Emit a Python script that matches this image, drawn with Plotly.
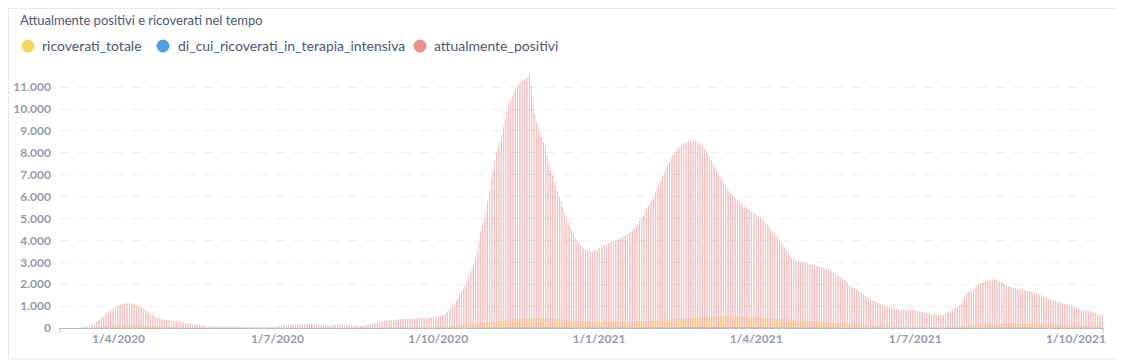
import pandas as pd
import plotly.graph_objects as go

start_date = "2020-02-28"

# daily values, 28/2/2020 .. 16/10/2021
attualmente_positivi = [
    # Feb 28-29 2020
    0, 0,
    # Mar 2020
    0, 0, 1, 1, 1, 2, 3, 5, 8, 12, 18, 30, 45, 70, 100, 140, 180, 230, 290, 340,
    400, 460, 530, 600, 670, 730, 790, 850, 900, 950, 1000,
    # Apr 2020
    1040, 1070, 1090, 1110, 1120, 1130, 1130, 1120, 1110, 1080, 1040, 1000, 960, 920, 870,
    830, 770, 710, 650, 600, 550, 510, 470, 440, 420, 400, 380, 360, 350, 340,
    # May 2020
    330, 320, 310, 300, 290, 280, 265, 250, 235, 220, 200, 185, 170, 160, 150, 135,
    120, 115, 110, 100, 95, 85, 80, 78, 75, 72, 70, 68, 66, 64, 62,
    # Jun 2020
    60, 58, 57, 55, 55, 54, 52, 50, 50, 48, 47, 46, 45, 45, 44, 43, 42, 42, 41, 40,
    40, 40, 42, 45, 48, 50, 55, 60, 65, 70,
    # Jul 2020
    80, 90, 100, 110, 120, 130, 135, 140, 145, 150, 155, 160, 160, 165, 170, 170,
    175, 175, 180, 180, 175, 170, 165, 160, 150, 140, 130, 120, 110, 110, 120,
    # Aug 2020
    130, 140, 150, 155, 160, 160, 155, 150, 145, 140, 130, 120, 110, 100, 95, 90,
    95, 100, 110, 120, 135, 150, 170, 190, 210, 230, 250, 270, 290, 310, 325,
    # Sep 2020
    330, 340, 350, 360, 370, 380, 390, 395, 400, 405, 410, 415, 420, 425, 430,
    435, 440, 440, 445, 450, 450, 455, 460, 460, 465, 470, 480, 495, 510, 530,
    # Oct 2020
    540, 555, 580, 620, 680, 750, 840, 940, 1030, 1130, 1240, 1360, 1490, 1630, 1780,
    1940, 2100, 2300, 2500, 2700, 2950, 3220, 3500, 3950, 4400, 4700, 5000, 5300,
    5800, 6300, 6800,
    # Nov 2020
    7200, 7600, 8000, 8300, 8500, 8800, 9200, 9600, 9900, 10200, 10400, 10600, 10800,
    10950, 11100, 11150, 11250, 11300, 11350, 11400, 11450, 11600, 11100, 10400, 9800,
    9400, 9100, 8900, 8700, 8500,
    # Dec 2020
    8300, 7900, 7500, 7200, 6950, 6700, 6500, 6250, 6000, 5800, 5500, 5250, 5000, 4830,
    4660, 4500, 4330, 4160, 4000, 3900, 3780, 3700, 3620, 3560, 3530, 3510, 3500, 3510,
    3530, 3560, 3600,
    # Jan 2021
    3650, 3700, 3740, 3780, 3820, 3860, 3900, 3930, 3960, 4000, 4030, 4060, 4100, 4150,
    4200, 4250, 4300, 4350, 4400, 4480, 4560, 4650, 4750, 4870, 5000, 5130, 5270, 5420,
    5570, 5720, 5860,
    # Feb 2021
    6000, 6180, 6370, 6560, 6750, 6930, 7100, 7280, 7450, 7620, 7780, 7920, 8040, 8130,
    8210, 8280, 8340, 8400, 8450, 8490, 8520, 8550, 8560, 8550, 8530, 8490, 8440, 8380,
    # Mar 2021
    8300, 8200, 8100, 7970, 7830, 7680, 7530, 7380, 7230, 7080, 6930, 6790, 6650, 6510,
    6380, 6260, 6150, 6070, 5990, 5910, 5840, 5770, 5700, 5630, 5560, 5490, 5430, 5370,
    5300, 5250, 5200,
    # Apr 2021
    5150, 5100, 5050, 5000, 4920, 4830, 4730, 4620, 4500, 4400, 4300, 4200, 4100, 4000,
    3900, 3780, 3660, 3540, 3420, 3310, 3200, 3150, 3100, 3060, 3030, 3000, 2990, 2980,
    2970, 2960,
    # May 2021
    2930, 2900, 2880, 2860, 2840, 2820, 2810, 2800, 2770, 2730, 2690, 2650, 2610, 2570,
    2520, 2470, 2420, 2370, 2320, 2270, 2200, 2130, 2060, 1980, 1900, 1850, 1800, 1750,
    1700, 1650, 1600,
    # Jun 2021
    1550, 1490, 1430, 1370, 1320, 1280, 1240, 1200, 1160, 1130, 1100, 1070, 1040, 1010,
    985, 960, 935, 910, 890, 870, 850, 845, 840, 835, 830, 825, 820, 815, 810, 800,
    # Jul 2021
    790, 775, 760, 740, 720, 700, 685, 670, 655, 640, 630, 620, 610, 600, 595, 595, 610,
    650, 700, 750, 800, 850, 900, 950, 1000, 1050, 1100, 1250, 1430, 1600, 1650,
    # Aug 2021
    1680, 1700, 1780, 1860, 1930, 1980, 2030, 2070, 2100, 2130, 2160, 2190, 2220, 2250,
    2230, 2200, 2170, 2130, 2100, 2050, 2000, 1950, 1900, 1870, 1850, 1830, 1810, 1790,
    1770, 1760, 1750,
    # Sep 2021
    1730, 1710, 1690, 1670, 1650, 1630, 1600, 1580, 1550, 1530, 1500, 1460, 1430, 1390,
    1350, 1320, 1290, 1260, 1230, 1210, 1180, 1150, 1130, 1100, 1080, 1050, 1030, 1000,
    980, 960,
    # Oct 1-16 2021
    930, 900, 875, 850, 830, 810, 790, 770, 745, 720, 700, 670, 640, 610, 580, 550,
]

ricoverati_totale = [
    # Feb 28-29 2020
    0, 0,
    # Mar 2020
    0, 0, 0, 0, 1, 1, 2, 3, 4, 5, 7, 9, 12, 15, 18, 22, 26, 30, 35, 40, 46, 52, 58, 64,
    70, 78, 86, 94, 102, 110, 118,
    # Apr 2020
    124, 130, 134, 138, 140, 142, 142, 140, 138, 135, 132, 128, 124, 120, 116, 112, 108,
    104, 100, 96, 92, 88, 85, 82, 79, 76, 73, 70, 67, 64,
    # May 2020
    62, 60, 58, 56, 54, 52, 50, 48, 46, 44, 42, 40, 38, 36, 34, 33, 32, 31, 30, 29, 28,
    27, 26, 25, 24, 23, 22, 21, 20, 20, 19,
    # Jun 2020
    19, 18, 18, 17, 17, 16, 16, 15, 15, 14, 14, 13, 13, 12, 12, 12, 11, 11, 11, 10, 10,
    10, 10, 11, 11, 12, 12, 13, 13, 14,
    # Jul 2020
    14, 15, 15, 16, 16, 17, 17, 18, 18, 19, 19, 20, 20, 20, 21, 21, 21, 22, 22, 22, 22,
    22, 21, 21, 20, 20, 20, 19, 19, 19, 20,
    # Aug 2020
    20, 21, 21, 22, 22, 23, 23, 24, 24, 25, 25, 26, 26, 27, 27, 28, 28, 29, 30, 31, 32,
    33, 34, 35, 36, 37, 38, 39, 40, 41, 42,
    # Sep 2020
    43, 44, 45, 46, 47, 48, 49, 50, 51, 52, 53, 54, 55, 56, 57, 58, 59, 60, 61, 62, 63,
    64, 65, 66, 67, 68, 69, 70, 71, 72,
    # Oct 2020
    74, 76, 78, 80, 83, 86, 90, 94, 98, 103, 108, 114, 120, 127, 134, 141, 149, 157,
    165, 173, 181, 190, 199, 208, 217, 226, 235, 244, 253, 262, 271,
    # Nov 2020
    280, 290, 300, 310, 320, 330, 340, 350, 360, 368, 376, 384, 392, 400, 406, 412, 418,
    424, 428, 432, 436, 440, 442, 444, 445, 445, 444, 442, 440, 437,
    # Dec 2020
    433, 429, 425, 420, 415, 410, 404, 398, 392, 386, 380, 374, 368, 362, 356, 350, 344,
    338, 332, 327, 322, 318, 314, 310, 307, 304, 301, 298, 296, 294, 292,
    # Jan 2021
    290, 289, 288, 287, 286, 286, 286, 287, 288, 289, 290, 292, 294, 296, 298, 300, 302,
    304, 306, 308, 310, 312, 314, 316, 318, 320, 322, 324, 326, 328, 330,
    # Feb 2021
    333, 336, 340, 344, 348, 352, 357, 362, 367, 372, 378, 384, 390, 396, 402, 408, 414,
    420, 426, 432, 438, 444, 450, 456, 462, 468, 474, 480,
    # Mar 2021
    486, 492, 497, 502, 506, 510, 514, 517, 520, 522, 524, 526, 527, 528, 528, 528, 527,
    526, 524, 522, 520, 517, 514, 511, 508, 505, 502, 498, 494, 490, 486,
    # Apr 2021
    482, 478, 474, 470, 466, 462, 458, 454, 450, 445, 440, 435, 430, 425, 420, 414, 408,
    402, 396, 390, 384, 378, 372, 366, 360, 354, 348, 342, 336, 330,
    # May 2021
    324, 318, 312, 306, 300, 294, 288, 282, 276, 270, 264, 258, 252, 246, 240, 234, 228,
    222, 216, 210, 204, 198, 192, 186, 180, 175, 170, 165, 160, 155, 150,
    # Jun 2021
    146, 142, 138, 134, 130, 126, 122, 118, 114, 110, 106, 102, 99, 96, 93, 90, 87, 84,
    81, 78, 76, 74, 72, 70, 68, 66, 64, 62, 60, 58,
    # Jul 2021
    57, 56, 55, 54, 53, 52, 51, 50, 50, 50, 50, 50, 51, 52, 53, 54, 55, 57, 59, 61, 63,
    66, 69, 72, 75, 79, 83, 87, 91, 95, 100,
    # Aug 2021
    105, 110, 115, 120, 125, 130, 135, 140, 145, 150, 155, 160, 164, 168, 172, 176, 180,
    183, 186, 189, 192, 194, 196, 198, 199, 200, 200, 200, 199, 198, 197,
    # Sep 2021
    195, 193, 191, 189, 187, 185, 182, 179, 176, 173, 170, 167, 164, 161, 158, 155, 152,
    149, 146, 143, 140, 137, 134, 131, 128, 126, 124, 122, 120, 118,
    # Oct 1-16 2021
    116, 114, 112, 110, 108, 106, 104, 102, 100, 98, 96, 94, 92, 90, 88, 86,
]

di_cui_ricoverati_in_terapia_intensiva = [
    # Feb 28-29 2020
    0, 0,
    # Mar 2020
    0, 0, 0, 0, 0, 0, 0, 1, 1, 1, 1, 2, 2, 3, 3, 4, 4, 5, 6, 7, 8, 9, 10, 11, 12, 13,
    14, 15, 16, 16, 17,
    # Apr 2020
    17, 17, 17, 17, 16, 16, 15, 15, 14, 14, 13, 12, 12, 11, 10, 10, 9, 9, 8, 8, 7, 7, 6,
    6, 6, 5, 5, 5, 4, 4,
    # May 2020
    4, 4, 3, 3, 3, 3, 2, 2, 2, 2, 2, 2, 1, 1, 1, 1, 1, 1, 1, 1, 1, 1, 0, 0, 0, 0, 0, 0,
    0, 0, 0,
    # Jun 2020
    0, 0, 0, 0, 0, 0, 0, 0, 0, 0, 0, 0, 0, 0, 0, 0, 0, 0, 0, 0, 0, 0, 0, 0, 0, 0, 0, 0,
    0, 0,
    # Jul 2020
    0, 0, 0, 0, 0, 0, 0, 0, 0, 0, 0, 0, 0, 0, 0, 0, 0, 0, 0, 0, 0, 0, 0, 0, 0, 0, 0, 0,
    0, 0, 0,
    # Aug 2020
    0, 0, 0, 0, 0, 0, 0, 0, 0, 0, 1, 1, 1, 1, 1, 1, 1, 1, 1, 1, 1, 1, 1, 1, 1, 1, 1, 1,
    1, 1, 1,
    # Sep 2020
    1, 1, 1, 1, 1, 1, 1, 1, 1, 2, 2, 2, 2, 2, 2, 2, 2, 2, 2, 3, 3, 3, 3, 3, 3, 3, 3, 3,
    4, 4,
    # Oct 2020
    4, 4, 4, 4, 5, 5, 5, 5, 6, 6, 6, 7, 7, 8, 8, 9, 9, 10, 10, 11, 12, 13, 14, 15, 16,
    17, 18, 19, 20, 21, 22,
    # Nov 2020
    23, 24, 25, 26, 27, 28, 29, 30, 31, 32, 33, 34, 35, 36, 36, 37, 37, 38, 38, 38, 38,
    38, 38, 38, 37, 37, 36, 36, 35, 35,
    # Dec 2020
    34, 34, 33, 33, 32, 32, 31, 31, 30, 30, 29, 29, 28, 28, 27, 27, 26, 26, 25, 25, 25,
    24, 24, 24, 23, 23, 23, 23, 22, 22, 22,
    # Jan 2021
    22, 22, 22, 22, 22, 22, 22, 22, 22, 22, 23, 23, 23, 23, 24, 24, 24, 25, 25, 25, 26,
    26, 26, 27, 27, 27, 28, 28, 29, 29, 30,
    # Feb 2021
    30, 31, 31, 32, 32, 33, 33, 34, 35, 35, 36, 37, 37, 38, 39, 39, 40, 41, 41, 42, 43,
    43, 44, 44, 45, 45, 46, 46,
    # Mar 2021
    47, 47, 48, 48, 49, 49, 50, 50, 50, 51, 51, 51, 51, 51, 51, 51, 51, 50, 50, 50, 49,
    49, 48, 48, 47, 47, 46, 46, 45, 45, 44,
    # Apr 2021
    44, 43, 43, 42, 42, 41, 41, 40, 40, 39, 39, 38, 37, 37, 36, 35, 35, 34, 33, 33, 32,
    31, 31, 30, 29, 29, 28, 27, 27, 26,
    # May 2021
    25, 25, 24, 23, 23, 22, 21, 21, 20, 19, 19, 18, 17, 17, 16, 16, 15, 15, 14, 14, 13,
    13, 12, 12, 11, 11, 10, 10, 10, 9, 9,
    # Jun 2021
    9, 8, 8, 8, 7, 7, 7, 6, 6, 6, 6, 5, 5, 5, 5, 5, 4, 4, 4, 4, 4, 4, 4, 3, 3, 3, 3, 3,
    3, 3,
    # Jul 2021
    3, 3, 3, 3, 3, 3, 3, 3, 3, 3, 3, 3, 3, 3, 3, 3, 4, 4, 4, 4, 5, 5, 5, 6, 6, 6, 7, 7,
    8, 8, 9,
    # Aug 2021
    9, 10, 10, 11, 11, 12, 12, 13, 13, 14, 14, 15, 15, 16, 16, 17, 17, 17, 18, 18, 18,
    18, 19, 19, 19, 19, 19, 19, 19, 19, 19,
    # Sep 2021
    19, 19, 18, 18, 18, 18, 17, 17, 17, 16, 16, 16, 15, 15, 15, 14, 14, 14, 13, 13, 13,
    12, 12, 12, 12, 11, 11, 11, 11, 10,
    # Oct 1-16 2021
    10, 10, 10, 10, 9, 9, 9, 9, 9, 8, 8, 8, 8, 8, 7, 7,
]

series_names = ["ricoverati_totale", "di_cui_ricoverati_in_terapia_intensiva", "attualmente_positivi"]
series_colors = ["#F9D45C", "#509EE3", "#EF8C8C"]
tick_dates = ["2020-04-01", "2020-07-01", "2020-10-01", "2021-01-01",
              "2021-04-01", "2021-07-01", "2021-10-01"]
y_ticks = list(range(0, 12000, 1000))

dates = pd.date_range(start_date, periods=len(attualmente_positivi), freq="D")
series_values = [ricoverati_totale, di_cui_ricoverati_in_terapia_intensiva, attualmente_positivi]

# the page body adds an 8px offset; the figure is sized to fill the rest of the window
OFF = 8
W, H = 1125 - OFF, 364 - OFF
ML, MR, MT, MB = 60 - OFF, 22, 74 - OFF, 36
PW, PH = W - ML - MR, H - MT - MB

fig = go.Figure()
for name, vals, col in zip(series_names, series_values, series_colors):
    fig.add_trace(go.Bar(x=dates, y=vals, name=name, marker_color=col,
                         marker_line_width=0, showlegend=False))


def px_x(p):  # page pixel -> paper x
    return (p - OFF - ML) / PW


def px_y(p):  # page pixel -> paper y
    return (H + OFF - MB - p) / PH


shapes = [
    # card border
    dict(type="rect", xref="paper", yref="paper", x0=px_x(8.5), x1=px_x(1119),
         y0=px_y(359), y1=px_y(8.5), line=dict(color="#E6E8EC", width=1), layer="below"),
    # axis end ticks
    dict(type="line", xref="paper", yref="paper", x0=0, x1=0, y0=0, y1=px_y(333),
         line=dict(color="#B9BDC6", width=1)),
    dict(type="line", xref="paper", yref="paper", x0=1, x1=1, y0=0, y1=px_y(333),
         line=dict(color="#B9BDC6", width=1)),
]

# legend: dot centres and text starts (page pixels)
legend_dot_x = [28, 163, 420]
legend_text_x = [41, 177, 433]
legend_y = 46
R = 6.5
annotations = []
for name, col, dx, tx in zip(series_names, series_colors, legend_dot_x, legend_text_x):
    shapes.append(dict(type="circle", xref="paper", yref="paper",
                       x0=px_x(dx - R), x1=px_x(dx + R),
                       y0=px_y(legend_y + R), y1=px_y(legend_y - R),
                       fillcolor=col, line=dict(width=0)))
    annotations.append(dict(text=name, xref="paper", yref="paper",
                            x=px_x(tx), y=px_y(legend_y), xanchor="left", yanchor="middle",
                            showarrow=False, borderpad=0,
                            font=dict(family="Lato", size=14, color="#4C5773")))

fig.update_layout(
    width=W, height=H,
    margin=dict(l=ML, r=MR, t=MT, b=MB, autoexpand=False),
    paper_bgcolor="white", plot_bgcolor="white",
    font=dict(family="Lato", color="#4C5773"),
    separators=",.",
    barmode="group", bargap=0.05, bargroupgap=0,
    showlegend=False,
    title=dict(text="Attualmente positivi e ricoverati nel tempo",
               xref="container", yref="container", x=(20 - OFF) / W, y=1 - (20 - OFF) / H,
               xanchor="left", yanchor="middle",
               font=dict(family="Lato", size=13, color="#4C5773")),
    xaxis=dict(type="date", automargin=False,
               range=[dates[0] - pd.Timedelta(hours=12), dates[-1] + pd.Timedelta(hours=12)],
               tickvals=tick_dates, tickformat="%-d/%-m/%Y",
               tickfont=dict(family="Lato", size=12, color="#949AAB", weight="bold"),
               showgrid=False, showline=True, linecolor="#B9BDC6", linewidth=1,
               ticks="", zeroline=False),
    yaxis=dict(range=[0, 11600], tickvals=y_ticks, tickformat=",d", automargin=False,
               tickfont=dict(family="Lato", size=12, color="#949AAB", weight="bold"),
               showgrid=True, gridcolor="#ECEEF2", griddash="dash", gridwidth=1,
               zeroline=False, showline=False, ticks="", ticklabelstandoff=8),
    shapes=shapes,
    annotations=annotations,
)

fig.write_html("out.html", config={"staticPlot": True})
